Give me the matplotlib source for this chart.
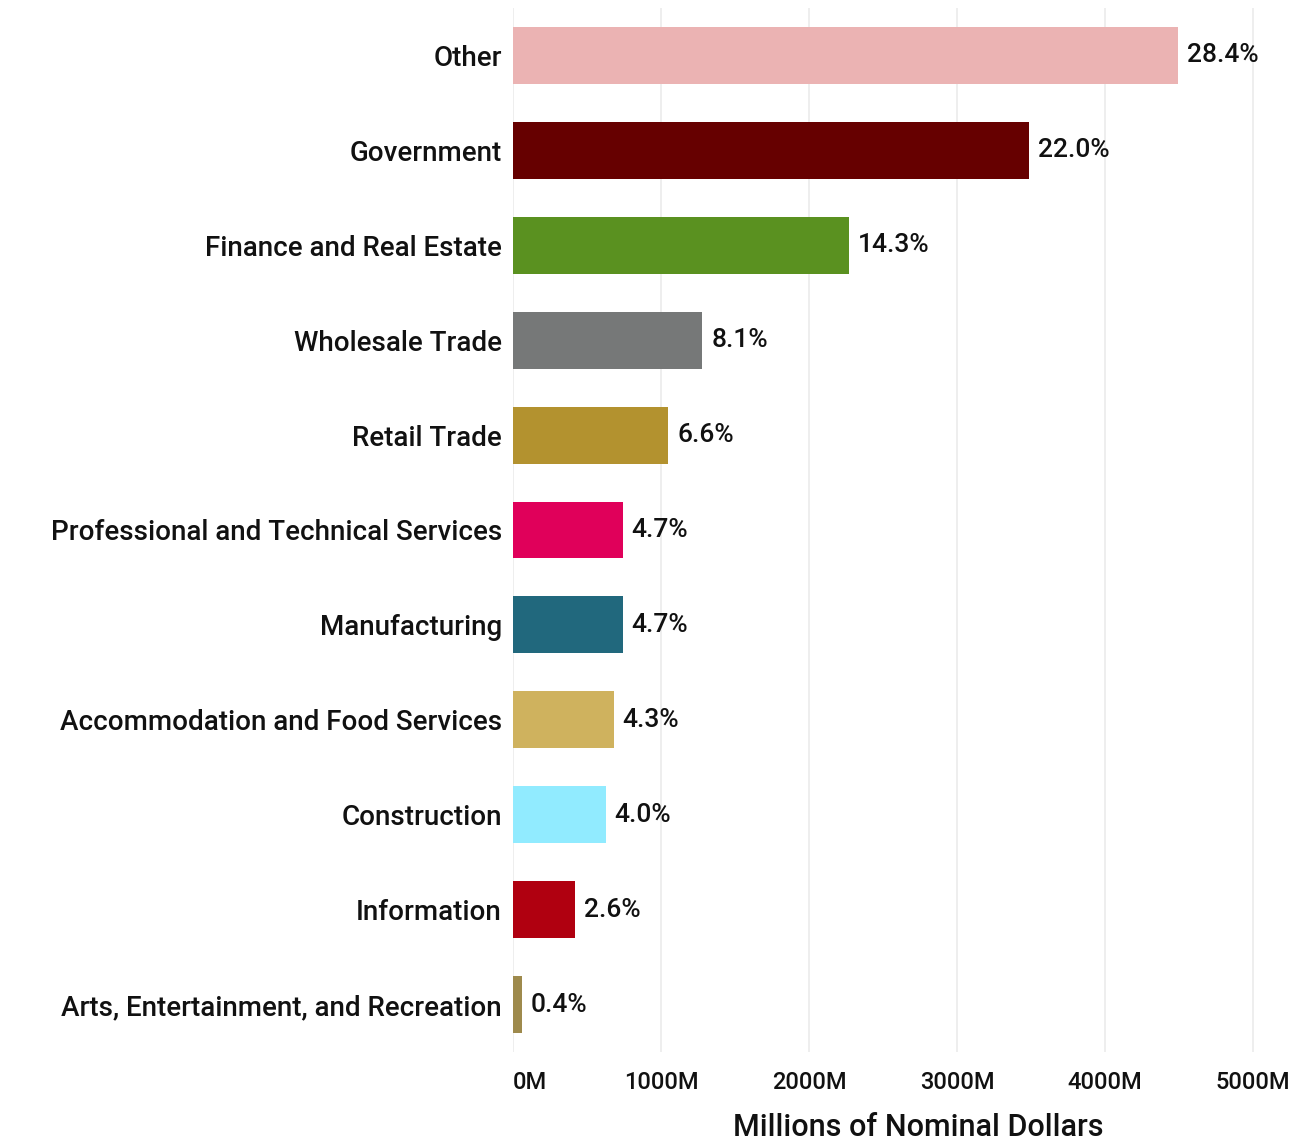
import matplotlib
matplotlib.use("Agg")
from matplotlib import pyplot as plt
import matplotlib.transforms as mtransforms

# data
categories = ["Other", "Government", "Finance and Real Estate", "Wholesale Trade",
              "Retail Trade", "Professional and Technical Services", "Manufacturing",
              "Accommodation and Food Services", "Construction", "Information",
              "Arts, Entertainment, and Recreation"]
values = [4492, 3488, 2269, 1279, 1050, 741, 741, 680, 626, 418, 61]
shares = ["28.4%", "22.0%", "14.3%", "8.1%", "6.6%", "4.7%", "4.7%", "4.3%", "4.0%", "2.6%", "0.4%"]
colors = ["#EBB3B3", "#660000", "#5A9120", "#767878", "#B3922F", "#E0005A",
          "#21687D", "#CFB25E", "#91EBFF", "#B00010", "#9E8A4C"]
xticks = [0, 1000, 2000, 3000, 4000, 5000]
xticklabels = ["0M", "1000M", "2000M", "3000M", "4000M", "5000M"]

plt.rcParams['font.family'] = ['Roboto', 'DejaVu Sans']
plt.rcParams['font.weight'] = 'medium'
txt = '#111111'

fig = plt.figure(figsize=(12.94, 11.41), dpi=100)
ax = fig.add_axes([513/1294, 89/1141, (1290-513)/1294, (1133-89)/1141])

ypos = list(range(len(categories)))
ax.barh(ypos, values, height=0.6, color=colors, zorder=2)

# value labels just right of each bar
offset = mtransforms.offset_copy(ax.transData, fig=fig, x=9, y=0, units='dots')
for y, v, s in zip(ypos, values, shares):
    ax.text(v, y, s, transform=offset, ha='left', va='center', fontsize=19, color=txt)

ax.set_ylim(len(categories) - 0.5, -0.5)
ax.set_xlim(0, 5250)
ax.set_yticks(ypos)
ax.set_yticklabels(categories, fontsize=20, color=txt)
ax.set_xticks(xticks)
ax.set_xticklabels(xticklabels, fontsize=17, color=txt)
ax.get_xticklabels()[0].set_horizontalalignment('left')
ax.tick_params(axis='both', length=0)
ax.tick_params(axis='x', pad=14)
ax.tick_params(axis='y', pad=8)

ax.grid(axis='x', color='#EBEBEB', linewidth=1.2, zorder=0)
for sp in ax.spines.values():
    sp.set_visible(False)

ax.set_xlabel("Millions of Nominal Dollars", fontsize=22, fontweight='medium', color=txt)
ax.xaxis.set_label_coords((918-513)/(1290-513), -0.058)

plt.savefig("out.png")
